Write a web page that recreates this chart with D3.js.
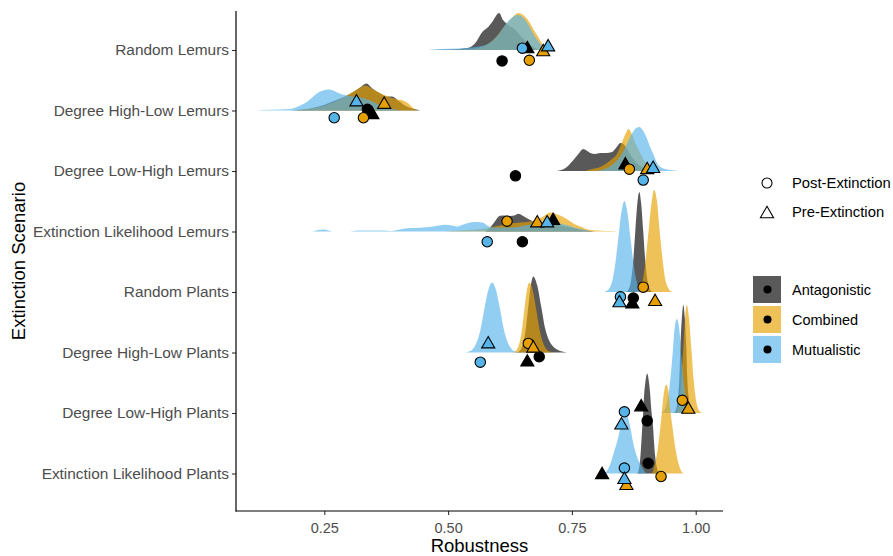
<!DOCTYPE html>
<html><head><meta charset="utf-8">
<script src="https://cdn.jsdelivr.net/npm/d3@7"></script>
<style>
body{margin:0;background:#fff}
svg{display:block}
text{font-family:"Liberation Sans",Arial,Helvetica,sans-serif}
</style>
</head><body>
<svg id="chart" width="893" height="556"></svg>
<script>
// ---------- data ----------
const scenarios = [
  "Random Lemurs","Degree High-Low Lemurs","Degree Low-High Lemurs","Extinction Likelihood Lemurs",
  "Random Plants","Degree High-Low Plants","Degree Low-High Plants","Extinction Likelihood Plants"
];
const groups = ["Antagonistic","Combined","Mutualistic"];
const groupColors = ["#000000","#E69F00","#56B4E9"];
const pointTypes = ["Post-Extinction","Pre-Extinction"];
const xTicks = [0.25,0.50,0.75,1.00];

// density curves: [robustness, relative density]
const densityRandomLemurs = {
  Antagonistic: [[0.460,0],[0.504,0.5],[0.539,2],[0.555,7],[0.569,18],[0.581,23],[0.589,28],[0.603,37],[0.611,30],[0.619,26],[0.636,20],[0.650,12],[0.666,5],[0.682,0]],
  Combined: [[0.504,0],[0.535,0.5],[0.561,2],[0.581,6],[0.595,12],[0.611,22],[0.625,30],[0.642,37],[0.654,34],[0.664,28],[0.672,21],[0.682,13],[0.690,6],[0.700,0]],
  Mutualistic: [[0.460,0],[0.484,1],[0.525,1.5],[0.555,3],[0.575,5],[0.589,9],[0.601,15],[0.615,25],[0.628,32],[0.640,35],[0.650,33],[0.660,27],[0.670,18],[0.680,10],[0.690,4],[0.702,0]]
};
const densityDegreeHighLowLemurs = {
  Antagonistic: [[0.181,0],[0.222,2],[0.252,6],[0.272,10],[0.292,14],[0.313,20],[0.325,24],[0.335,27],[0.347,22],[0.363,17],[0.377,14],[0.387,14],[0.399,10],[0.413,5],[0.428,2],[0.444,0]],
  Combined: [[0.191,0],[0.222,2],[0.252,5],[0.272,9],[0.292,14],[0.309,19],[0.323,23],[0.333,25],[0.349,21],[0.369,16],[0.383,13],[0.397,11],[0.409,10],[0.420,7],[0.428,3],[0.438,0]],
  Mutualistic: [[0.111,0],[0.127,0.5],[0.161,1],[0.181,1.5],[0.201,5],[0.216,9],[0.228,14],[0.238,18],[0.248,20],[0.258,21],[0.268,20],[0.276,18],[0.286,16],[0.296,15],[0.306,14],[0.323,13],[0.343,10],[0.363,5],[0.383,2],[0.403,0]]
};
const densityDegreeLowHighLemurs = {
  Antagonistic: [[0.720,0],[0.737,3],[0.753,11],[0.763,17],[0.773,22],[0.781,20],[0.787,18],[0.797,17],[0.807,18],[0.819,18],[0.831,19],[0.839,23],[0.848,28],[0.856,26],[0.864,20],[0.874,12],[0.888,5],[0.904,1],[0.918,0]],
  Combined: [[0.777,0],[0.791,2],[0.807,4],[0.821,8],[0.831,12],[0.841,17],[0.852,30],[0.860,39],[0.864,42],[0.870,38],[0.878,28],[0.888,18],[0.898,9],[0.908,4],[0.920,1],[0.932,0]],
  Mutualistic: [[0.797,0],[0.817,2],[0.831,6],[0.848,15],[0.860,26],[0.872,38],[0.880,43],[0.886,44],[0.894,40],[0.902,32],[0.908,24],[0.916,15],[0.922,8],[0.932,3],[0.949,1],[0.965,0]]
};
const densityExtinctionLikelihoodLemurs = {
  Antagonistic: [[0.575,0],[0.585,4],[0.593,9],[0.605,15.7],[0.615,16],[0.625,15.5],[0.634,16],[0.642,17.7],[0.650,16],[0.660,13],[0.672,10],[0.686,8],[0.702,8],[0.718,7],[0.737,5],[0.757,3],[0.777,1],[0.797,0]],
  Combined: [[0.494,0],[0.525,1],[0.555,2],[0.585,4],[0.605,6],[0.625,8],[0.646,9],[0.666,10],[0.680,12],[0.692,15],[0.706,19],[0.716,18],[0.726,16],[0.741,12],[0.753,8],[0.767,5],[0.783,2],[0.801,1],[0.817,0.5],[0.837,0.3],[0.848,0]],
  Mutualistic: [[0.226,0],[0.238,1.5],[0.248,2],[0.258,1],[0.268,0],[0.302,0],[0.317,1],[0.343,1],[0.369,1],[0.383,0.5],[0.397,1.5],[0.418,3.3],[0.434,3.5],[0.450,4],[0.470,5],[0.494,6.7],[0.508,6],[0.518,5],[0.531,7],[0.545,9],[0.559,9.5],[0.571,8.7],[0.579,6],[0.589,4],[0.605,4],[0.625,4],[0.646,5],[0.666,7],[0.686,9],[0.700,10],[0.710,10],[0.726,8],[0.743,6],[0.761,3],[0.777,1.5],[0.791,0]]
};
const densityRandomPlants = {
  Antagonistic: [[0.858,0],[0.862,1],[0.866,4.4],[0.870,13.5],[0.874,32],[0.878,61],[0.882,88],[0.886,100],[0.890,88],[0.894,61],[0.898,32],[0.902,13.5],[0.906,4.4],[0.910,1],[0.914,0]],
  Combined: [[0.877,0],[0.883,1],[0.888,4.5],[0.894,14],[0.899,33],[0.905,62],[0.911,90],[0.916,102],[0.922,90],[0.927,62],[0.933,33],[0.938,14],[0.944,4.5],[0.949,1],[0.955,0]],
  Mutualistic: [[0.814,0],[0.820,1],[0.826,4],[0.832,12],[0.838,30],[0.844,55],[0.850,80],[0.856,91],[0.862,80],[0.868,55],[0.874,30],[0.880,12],[0.886,4],[0.892,1],[0.898,0]]
};
const densityDegreeHighLowPlants = {
  Antagonistic: [[0.636,0],[0.642,0.8],[0.647,3.3],[0.652,10],[0.657,24],[0.662,46],[0.667,67],[0.672,76],[0.680,67],[0.688,46],[0.696,24],[0.704,12],[0.712,6],[0.720,3],[0.730,1],[0.740,0]],
  Combined: [[0.628,0],[0.634,0.8],[0.639,3],[0.644,9.5],[0.649,22],[0.654,43],[0.659,62],[0.664,70],[0.671,62],[0.678,43],[0.685,22],[0.692,9.5],[0.699,3],[0.706,0.8],[0.714,0]],
  Mutualistic: [[0.533,0],[0.541,0.8],[0.549,3],[0.557,9.5],[0.565,22],[0.573,43],[0.581,62],[0.589,70],[0.597,62],[0.605,43],[0.613,22],[0.621,9.5],[0.629,3],[0.637,0.8],[0.645,0]]
};
const densityDegreeLowHighPlants = {
  Antagonistic: [[0.955,0],[0.958,1],[0.961,4.8],[0.964,14.6],[0.967,35],[0.969,66],[0.972,95],[0.975,108],[0.978,95],[0.981,66],[0.983,35],[0.986,14.6],[0.989,4.8],[0.992,1],[0.995,0]],
  Combined: [[0.957,0],[0.961,1],[0.964,4.8],[0.968,14.6],[0.971,35],[0.975,66],[0.9785,95],[0.982,108],[0.9865,95],[0.991,66],[0.9955,35],[1.000,14.6],[1.0045,4.8],[1.009,1],[1.014,0]],
  Mutualistic: [[0.929,0],[0.934,1],[0.938,4],[0.943,12.7],[0.948,30],[0.953,57],[0.957,83],[0.962,94],[0.967,83],[0.971,57],[0.976,30],[0.981,12.7],[0.986,4],[0.990,1],[0.995,0]]
};
const densityExtinctionLikelihoodPlants = {
  Antagonistic: [[0.882,0],[0.884,2],[0.888,15],[0.892,46],[0.894,62],[0.896,80],[0.898,90],[0.902,100],[0.906,90],[0.908,80],[0.910,66],[0.914,46],[0.916,30],[0.918,18],[0.922,5],[0.926,0]],
  Combined: [[0.912,0],[0.918,10],[0.9237,26],[0.9285,46],[0.9319,63],[0.9365,83],[0.9405,89],[0.9446,83],[0.9488,63],[0.9532,46],[0.9587,26],[0.9653,10],[0.9728,1],[0.9769,0]],
  Mutualistic: [[0.813,0],[0.821,3],[0.828,10],[0.834,20],[0.842,33],[0.848,46],[0.858,62],[0.868,46],[0.874,30],[0.882,16],[0.892,6],[0.900,0]]
};

// summary points: [group, type, robustness, vertical jitter (rows)]
const pointsRandomLemurs = [
  ["Antagonistic","Post-Extinction",0.609,0.18],["Antagonistic","Pre-Extinction",0.660,-0.05],
  ["Combined","Post-Extinction",0.664,0.17],["Combined","Pre-Extinction",0.692,0.0],
  ["Mutualistic","Post-Extinction",0.650,-0.03],["Mutualistic","Pre-Extinction",0.702,-0.08]
];
const pointsDegreeHighLowLemurs = [
  ["Antagonistic","Post-Extinction",0.337,-0.02],["Antagonistic","Pre-Extinction",0.347,0.04],
  ["Combined","Post-Extinction",0.329,0.12],["Combined","Pre-Extinction",0.371,-0.13],
  ["Mutualistic","Post-Extinction",0.270,0.12],["Mutualistic","Pre-Extinction",0.315,-0.17]
];
const pointsDegreeLowHighLemurs = [
  ["Antagonistic","Post-Extinction",0.636,0.08],["Antagonistic","Pre-Extinction",0.858,-0.13],
  ["Combined","Post-Extinction",0.866,-0.03],["Combined","Pre-Extinction",0.902,-0.05],
  ["Mutualistic","Post-Extinction",0.894,0.15],["Mutualistic","Pre-Extinction",0.914,-0.07]
];
const pointsExtinctionLikelihoodLemurs = [
  ["Antagonistic","Post-Extinction",0.650,0.17],["Antagonistic","Pre-Extinction",0.712,-0.21],
  ["Combined","Post-Extinction",0.619,-0.17],["Combined","Pre-Extinction",0.680,-0.17],
  ["Mutualistic","Post-Extinction",0.579,0.17],["Mutualistic","Pre-Extinction",0.700,-0.17]
];
const pointsRandomPlants = [
  ["Antagonistic","Post-Extinction",0.874,0.10],["Antagonistic","Pre-Extinction",0.872,0.17],
  ["Combined","Post-Extinction",0.894,-0.08],["Combined","Pre-Extinction",0.918,0.13],
  ["Mutualistic","Post-Extinction",0.848,0.08],["Mutualistic","Pre-Extinction",0.846,0.15]
];
const pointsDegreeHighLowPlants = [
  ["Antagonistic","Post-Extinction",0.684,0.07],["Antagonistic","Pre-Extinction",0.660,0.13],
  ["Combined","Post-Extinction",0.662,-0.15],["Combined","Pre-Extinction",0.672,-0.10],
  ["Mutualistic","Post-Extinction",0.565,0.16],["Mutualistic","Pre-Extinction",0.581,-0.17]
];
const pointsDegreeLowHighPlants = [
  ["Antagonistic","Post-Extinction",0.902,0.13],["Antagonistic","Pre-Extinction",0.890,-0.13],
  ["Combined","Post-Extinction",0.973,-0.21],["Combined","Pre-Extinction",0.985,-0.09],
  ["Mutualistic","Post-Extinction",0.856,-0.02],["Mutualistic","Pre-Extinction",0.850,0.17]
];
const pointsExtinctionLikelihoodPlants = [
  ["Antagonistic","Post-Extinction",0.904,-0.17],["Antagonistic","Pre-Extinction",0.811,-0.01],
  ["Combined","Post-Extinction",0.930,0.05],["Combined","Pre-Extinction",0.860,0.17],
  ["Mutualistic","Post-Extinction",0.856,-0.09],["Mutualistic","Pre-Extinction",0.856,0.07]
];

const densities = [densityRandomLemurs,densityDegreeHighLowLemurs,densityDegreeLowHighLemurs,densityExtinctionLikelihoodLemurs,
  densityRandomPlants,densityDegreeHighLowPlants,densityDegreeLowHighPlants,densityExtinctionLikelihoodPlants];
const points = [pointsRandomLemurs,pointsDegreeHighLowLemurs,pointsDegreeLowHighLemurs,pointsExtinctionLikelihoodLemurs,
  pointsRandomPlants,pointsDegreeHighLowPlants,pointsDegreeLowHighPlants,pointsExtinctionLikelihoodPlants];

// ---------- chart ----------
const svg = d3.select("#chart");
const plot = {left:236, right:723, top:11, bottom:511};
const x = d3.scaleLinear().domain([0.0717,1.0551]).range([plot.left, plot.right]);
const y = d3.scalePoint().domain(scenarios).range([50,473.5]);
const step = y.step();
const hScale = d3.scaleLinear().domain([0,100]).range([0,100]);
const color = d3.scaleOrdinal().domain(groups).range(groupColors);

const area = d3.area().curve(d3.curveMonotoneX);

const ridgeLayer = svg.append("g");
scenarios.forEach((s,i)=>{
  const base = y(s);
  groups.forEach(g=>{
    const d = densities[i][g];
    area.x(p=>x(p[0])).y0(base).y1(p=>base - hScale(p[1]));
    ridgeLayer.append("path")
      .attr("d", area(d))
      .attr("fill", color(g))
      .attr("fill-opacity", 0.65);
  });
});

// axes
const xAxis = d3.axisBottom(x).tickValues(xTicks).tickFormat(d3.format(".2f")).tickSize(4).tickSizeOuter(0);
const gx = svg.append("g").attr("transform",`translate(0,${plot.bottom})`).call(xAxis);
gx.select(".domain").remove();
gx.selectAll(".tick line").attr("stroke","#333").attr("stroke-width",1.1);
gx.selectAll(".tick text").attr("fill","#4d4d4d").attr("font-size","14.5px").attr("dy","1.05em")
  .attr("font-family",'"Liberation Sans",Arial,sans-serif');

const yAxis = d3.axisLeft(y).tickSize(4).tickSizeOuter(0).tickPadding(3);
const gy = svg.append("g").attr("transform",`translate(${plot.left},0)`).call(yAxis);
gy.select(".domain").remove();
gy.selectAll(".tick line").attr("stroke","#333").attr("stroke-width",1.1);
gy.selectAll(".tick text").attr("fill","#4d4d4d").attr("font-size","15.4px")
  .attr("font-family",'"Liberation Sans",Arial,sans-serif');

svg.append("line").attr("x1",plot.left).attr("x2",plot.left).attr("y1",plot.top).attr("y2",plot.bottom+0.5)
  .attr("stroke","#000").attr("stroke-width",1.2);
svg.append("line").attr("x1",plot.left-0.5).attr("x2",plot.right).attr("y1",plot.bottom).attr("y2",plot.bottom)
  .attr("stroke","#000").attr("stroke-width",1.2);

// points
const triPath = d3.symbol(d3.symbolTriangle).size(75)();
const pointLayer = svg.append("g");
scenarios.forEach((s,i)=>{
  const base = y(s);
  points[i].forEach(p=>{
    const cx = x(p[2]), cy = base + p[3]*step;
    if(p[1]==="Post-Extinction"){
      pointLayer.append("circle").attr("cx",cx).attr("cy",cy).attr("r",5.2)
        .attr("fill",color(p[0])).attr("stroke","#000").attr("stroke-width",1.1);
    } else {
      pointLayer.append("path").attr("d",triPath).attr("transform",`translate(${cx},${cy+1.9})`)
        .attr("fill",color(p[0])).attr("stroke","#000").attr("stroke-width",1.1);
    }
  });
});

// axis titles
svg.append("text").attr("x",(plot.left+plot.right)/2).attr("y",552).attr("text-anchor","middle")
  .attr("font-size","18.5px").attr("fill","#000").text("Robustness");
svg.append("text").attr("transform",`translate(25,${(plot.top+plot.bottom)/2}) rotate(-90)`)
  .attr("text-anchor","middle").attr("font-size","18.5px").attr("fill","#000").text("Extinction Scenario");

// shape legend
const lg1 = svg.append("g");
pointTypes.forEach((t,i)=>{
  const cy = 183 + i*29;
  if(t==="Post-Extinction"){
    lg1.append("circle").attr("cx",767).attr("cy",cy).attr("r",5).attr("fill","none").attr("stroke","#000").attr("stroke-width",1.1);
  } else {
    lg1.append("path").attr("d",triPath).attr("transform",`translate(767,${cy+1.9})`).attr("fill","none").attr("stroke","#000").attr("stroke-width",1.1);
  }
  lg1.append("text").attr("x",792).attr("y",cy).attr("dy","0.35em").attr("font-size","14.8px").attr("fill","#000").text(t);
});

// fill legend
const lg2 = svg.append("g");
groups.forEach((g,i)=>{
  const top = 276 + i*30;
  lg2.append("rect").attr("x",753).attr("y",top).attr("width",28).attr("height",27)
    .attr("fill",color(g)).attr("fill-opacity",0.65);
  lg2.append("circle").attr("cx",767.5).attr("cy",top+13.5).attr("r",4).attr("fill","#000");
  lg2.append("text").attr("x",792).attr("y",top+13.5).attr("dy","0.35em").attr("font-size","14.5px").attr("fill","#000").text(g);
});
</script>
</body></html>
